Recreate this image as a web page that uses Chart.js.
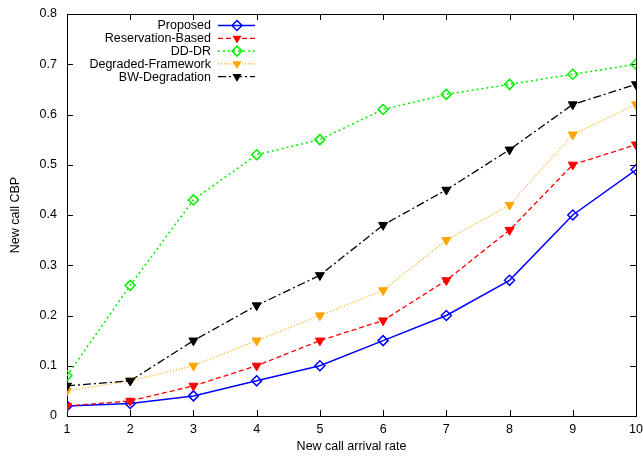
<!DOCTYPE html>
<html><head><meta charset="utf-8">
<script src="https://cdn.jsdelivr.net/npm/chart.js@4.4.0/dist/chart.umd.min.js"></script>
<style>html,body{margin:0;padding:0;background:#fff}</style>
</head><body>
<canvas id="c" width="643" height="456" style="width:643px;height:456px;display:block"></canvas>
<script>
const categories = [1, 2, 3, 4, 5, 6, 7, 8, 9, 10];
const proposed = [0.02, 0.025, 0.04, 0.07, 0.10, 0.15, 0.20, 0.27, 0.40, 0.49];
const reservationBased = [0.02, 0.03, 0.06, 0.10, 0.15, 0.19, 0.27, 0.37, 0.50, 0.54];
const ddDr = [0.08, 0.26, 0.43, 0.52, 0.55, 0.61, 0.64, 0.66, 0.68, 0.70];
const degradedFramework = [0.05, 0.07, 0.10, 0.15, 0.20, 0.25, 0.35, 0.42, 0.56, 0.62];
const bwDegradation = [0.06, 0.07, 0.15, 0.22, 0.28, 0.38, 0.45, 0.53, 0.62, 0.66];
const yTickLabels = ['0', '0.1', '0.2', '0.3', '0.4', '0.5', '0.6', '0.7', '0.8'];
const xTickLabels = ['1', '2', '3', '4', '5', '6', '7', '8', '9', '10'];

const FONT = 'Liberation Sans, Arial, Helvetica, sans-serif';
const FS = 12.5;
const pts = arr => categories.map((c, i) => ({x: c, y: arr[i]}));

const series = [
  {label: 'Proposed', data: proposed, color: '#0000ff', dash: [], width: 1.5, style: 'rectRot', fill: false},
  {label: 'Reservation-Based', data: reservationBased, color: '#ff0000', dash: [5, 3], width: 1.3, style: 'triangle', fill: true},
  {label: 'DD-DR', data: ddDr, color: '#00ee00', dash: [2, 3], width: 1.5, style: 'rectRot', fill: false},
  {label: 'Degraded-Framework', data: degradedFramework, color: '#ffa500', dash: [1, 2], width: 1.2, style: 'triangle', fill: true},
  {label: 'BW-Degradation', data: bwDegradation, color: '#000000', dash: [8, 3, 2, 3], width: 1.3, style: 'triangle', fill: true}
];
const DIAMOND_R = 5, TRI_R = 5.2;

function drawMarker(ctx, s, x, y) {
  ctx.save();
  ctx.setLineDash([]);
  ctx.lineWidth = 1.5;
  ctx.strokeStyle = s.color;
  ctx.fillStyle = s.color;
  ctx.beginPath();
  if (s.style === 'rectRot') {
    const r = DIAMOND_R;
    ctx.moveTo(x, y - r); ctx.lineTo(x + r, y); ctx.lineTo(x, y + r); ctx.lineTo(x - r, y); ctx.closePath();
    ctx.stroke();
  } else {
    const rr = TRI_R;
    ctx.moveTo(x - rr * 0.866, y - rr * 0.5); ctx.lineTo(x + rr * 0.866, y - rr * 0.5); ctx.lineTo(x, y + rr); ctx.closePath();
    ctx.fill();
  }
  ctx.restore();
}

const framePlugin = {
  id: 'frame',
  beforeDatasetsDraw(chart) {
    const {ctx, chartArea: a, scales: {x, y}} = chart;
    ctx.save();
    ctx.strokeStyle = '#000';
    ctx.lineWidth = 1;
    ctx.setLineDash([]);
    ctx.beginPath();
    const L = 6;
    categories.forEach(v => {
      const px = Math.round(x.getPixelForValue(v)) + 0.5;
      ctx.moveTo(px, a.bottom); ctx.lineTo(px, a.bottom - L);
      ctx.moveTo(px, a.top); ctx.lineTo(px, a.top + L);
    });
    yTickLabels.forEach(t => {
      const py = Math.round(y.getPixelForValue(parseFloat(t))) + 0.5;
      ctx.moveTo(a.left, py); ctx.lineTo(a.left + L, py);
      ctx.moveTo(a.right, py); ctx.lineTo(a.right - L, py);
    });
    ctx.stroke();
    ctx.strokeRect(Math.round(a.left) + 0.5, Math.round(a.top) + 0.5, Math.round(a.right - a.left), Math.round(a.bottom - a.top));
    ctx.restore();
  },
  afterDatasetsDraw(chart) {
    const {ctx} = chart;
    ctx.save();
    ctx.font = FS + 'px ' + FONT;
    ctx.textAlign = 'right';
    ctx.textBaseline = 'middle';
    const textX = 211, x0 = 218, x1 = 255, mx = 237;
    series.forEach((s, i) => {
      const yy = 25.5 + i * 12.8;
      ctx.fillStyle = '#000';
      ctx.fillText(s.label, textX, yy + 0.5);
      ctx.save();
      ctx.strokeStyle = s.color;
      ctx.lineWidth = s.width;
      ctx.setLineDash(s.dash);
      ctx.beginPath(); ctx.moveTo(x0, yy); ctx.lineTo(x1, yy); ctx.stroke();
      ctx.restore();
      drawMarker(ctx, s, mx, yy);
    });
    ctx.restore();
  }
};

new Chart(document.getElementById('c'), {
  type: 'line',
  data: {
    datasets: series.map((s, i) => ({
      label: s.label,
      data: pts(s.data),
      borderColor: s.color,
      backgroundColor: s.fill ? s.color : 'rgba(0,0,0,0)',
      pointBackgroundColor: s.fill ? s.color : 'rgba(0,0,0,0)',
      pointBorderColor: s.color,
      pointBorderWidth: s.fill ? 1 : 1.5,
      borderWidth: s.width,
      borderDash: s.dash,
      pointStyle: s.style,
      pointRotation: s.style === 'triangle' ? 180 : 0,
      pointRadius: s.style === 'triangle' ? TRI_R : DIAMOND_R,
      tension: 0,
      fill: false,
      order: series.length - i
    }))
  },
  options: {
    responsive: false,
    animation: false,
    devicePixelRatio: 1,
    layout: {padding: {left: 0, right: 7, top: 14, bottom: 0}},
    plugins: {legend: {display: false}, tooltip: {enabled: false}},
    scales: {
      x: {
        type: 'linear', min: 1, max: 10,
        afterFit: s => { s.height = 40; s.paddingLeft = 0; s.paddingRight = 0; },
        afterBuildTicks: s => { s.ticks = categories.map(v => ({value: v})); },
        grid: {drawOnChartArea: false, drawTicks: false},
        border: {display: false},
        ticks: {padding: 6, color: '#000', font: {family: FONT, size: FS}, maxRotation: 0, autoSkip: false,
          callback: (v) => xTickLabels[categories.indexOf(v)]},
        title: {display: true, text: 'New call arrival rate', color: '#000', font: {family: FONT, size: FS}, padding: {top: 0, bottom: 2}}
      },
      y: {
        type: 'linear', min: 0, max: 0.8,
        afterFit: s => { s.width = 67; s.paddingTop = 0; s.paddingBottom = 0; },
        afterBuildTicks: s => { s.ticks = yTickLabels.map(t => ({value: parseFloat(t)})); },
        grid: {drawOnChartArea: false, drawTicks: false},
        border: {display: false},
        ticks: {padding: 10, color: '#000', font: {family: FONT, size: FS}, autoSkip: false,
          callback: (v) => yTickLabels[Math.round(v * 10)]},
        title: {display: true, text: 'New call CBP', color: '#000', font: {family: FONT, size: FS}, padding: {top: 8, bottom: 0}}
      }
    }
  },
  plugins: [framePlugin]
});
</script>
</body></html>
